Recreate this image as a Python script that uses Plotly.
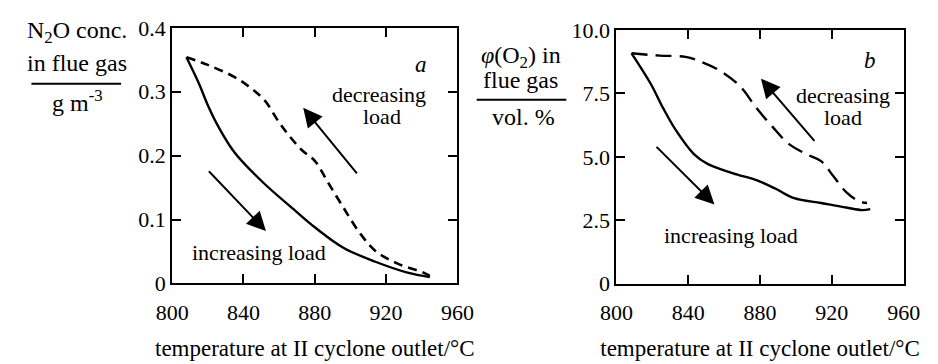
import plotly.graph_objects as go

# --- (a) N2O concentration vs. temperature at II cyclone outlet ---
temp_inc_a = [808, 815, 820, 826, 835, 851, 869, 880, 896, 914, 932, 944.5]
n2o_inc = [0.354, 0.313, 0.279, 0.245, 0.205, 0.158, 0.114, 0.088, 0.056, 0.034, 0.017, 0.010]

temp_dec_a = [808, 820, 835, 844, 852, 860, 866, 873, 880, 887, 896, 905, 914, 926.5, 941, 944.5]
n2o_dec = [0.354, 0.342, 0.323, 0.306, 0.286, 0.252, 0.230, 0.208, 0.192, 0.160, 0.119, 0.080, 0.051, 0.031, 0.017, 0.012]

# --- (b) O2 volume fraction vs. temperature at II cyclone outlet ---
temp_inc_b = [808.4, 819, 826, 833, 843, 851, 865, 878, 889, 899, 914, 928, 937, 941.4]
o2_inc = [9.08, 7.89, 6.92, 6.06, 5.12, 4.71, 4.35, 4.08, 3.73, 3.37, 3.18, 3.0, 2.9, 2.94]

temp_dec_b = [808.4, 824, 838.5, 847, 858, 869, 878, 887, 896, 906, 914, 921, 928, 935, 939.6]
o2_dec = [9.08, 8.99, 8.94, 8.75, 8.38, 7.77, 6.92, 6.18, 5.51, 5.1, 4.83, 4.22, 3.61, 3.25, 3.18]

x_ticks = [800, 840, 880, 920, 960]
y_ticks_a = [0, 0.1, 0.2, 0.3, 0.4]
y_ticklabels_a = ["0", "0.1", "0.2", "0.3", "0.4"]
y_ticks_b = [0, 2.5, 5.0, 7.5, 10.0]
y_ticklabels_b = ["0", "2.5", "5.0", "7.5", "10.0"]

FONT = "Liberation Serif"
W, H = 938, 364

fig = go.Figure()

line_solid = dict(color="black", width=2.4, shape="spline", smoothing=1.0)
fig.add_trace(go.Scatter(x=temp_inc_a, y=n2o_inc, mode="lines", line=line_solid,
                         xaxis="x", yaxis="y", showlegend=False))
fig.add_trace(go.Scatter(x=temp_dec_a, y=n2o_dec, mode="lines",
                         line=dict(color="black", width=2.6, dash="9px,6px", shape="spline", smoothing=1.0),
                         xaxis="x", yaxis="y", showlegend=False))
fig.add_trace(go.Scatter(x=temp_inc_b, y=o2_inc, mode="lines", line=line_solid,
                         xaxis="x2", yaxis="y2", showlegend=False))
fig.add_trace(go.Scatter(x=temp_dec_b, y=o2_dec, mode="lines",
                         line=dict(color="black", width=2.4, dash="16px,8px", shape="spline", smoothing=1.0),
                         xaxis="x2", yaxis="y2", showlegend=False))

axis_common = dict(
    showline=True, linecolor="black", linewidth=2, mirror="allticks",
    ticks="inside", ticklen=9, tickwidth=2, tickcolor="black",
    showgrid=False, zeroline=False,
    tickfont=dict(family=FONT, size=22, color="black"),
)

xtitle = "temperature at II cyclone outlet/°C"
xtitle_font = dict(family=FONT, size=23, color="black")

fig.update_layout(
    width=W, height=H,
    margin=dict(l=0, r=0, t=0, b=0),
    paper_bgcolor="white", plot_bgcolor="white",
    font=dict(family=FONT, color="black"),
    xaxis=dict(axis_common, domain=[161 / W, 457 / W], range=[800, 960],
               tickvals=x_ticks, anchor="y", ticklabelstandoff=8,
               title=dict(text=xtitle, font=xtitle_font, standoff=16)),
    yaxis=dict(axis_common, domain=[1 - 291.5 / H, 1 - 17 / H], range=[0, 0.4],
               tickvals=y_ticks_a, ticktext=y_ticklabels_a, anchor="x"),
    xaxis2=dict(axis_common, domain=[622 / W, 920 / W], range=[800, 960],
                tickvals=x_ticks, anchor="y2", ticklabelstandoff=8,
                title=dict(text=xtitle, font=xtitle_font, standoff=16)),
    yaxis2=dict(axis_common, domain=[1 - 291.7 / H, 1 - 19.3 / H], range=[0, 10],
                tickvals=y_ticks_b, ticktext=y_ticklabels_b, anchor="x2"),
)

ann = []


def label(text, x, y, xref, yref, size=22):
    ann.append(dict(text=text, x=x, y=y, xref=xref, yref=yref, showarrow=False,
                    font=dict(family=FONT, size=size, color="black"),
                    xanchor="center", yanchor="middle"))


def arrow(x0, y0, x1, y1, xref, yref):
    ann.append(dict(x=x1, y=y1, ax=x0, ay=y0, xref=xref, yref=yref,
                    axref=xref, ayref=yref, text="", showarrow=True,
                    arrowhead=2, arrowsize=1.9, arrowwidth=2, arrowcolor="black"))


# panel a
label("<i>a</i>", 939.4, 0.343, "x", "y", size=23)
label("decreasing", 916.2, 0.295, "x", "y")
label("load", 917.8, 0.262, "x", "y")
label("increasing load", 848.9, 0.049, "x", "y")
arrow(904.3, 0.170, 873.5, 0.275, "x", "y")
arrow(819.8, 0.178, 852.6, 0.082, "x", "y")

# panel b
label("<i>b</i>", 941.4, 8.81, "x2", "y2", size=23)
label("decreasing", 926.2, 7.40, "x2", "y2")
label("load", 926.2, 6.56, "x2", "y2")
label("increasing load", 864.0, 1.90, "x2", "y2")
arrow(911.0, 5.57, 880.5, 8.08, "x2", "y2")
arrow(821.5, 5.45, 854.6, 3.12, "x2", "y2")

# quantity / unit y-axis titles written as fractions
label("N<sub>2</sub>O conc.", 62 / W, 1 - 21 / H, "paper", "paper", size=24)
label("in flue gas", 62 / W, 1 - 55 / H, "paper", "paper", size=24)
label("g m<sup>-3</sup>", 63 / W, 1 - 96 / H, "paper", "paper", size=24)
label("<i>φ</i>(O<sub>2</sub>) in", 522.5 / W, 1 - 48 / H, "paper", "paper", size=24)
label("flue gas", 522 / W, 1 - 73 / H, "paper", "paper", size=24)
label("vol. %", 526 / W, 1 - 113 / H, "paper", "paper", size=24)

fig.update_layout(annotations=ann)

fig.update_layout(shapes=[
    dict(type="line", xref="paper", yref="paper", x0=15 / W, x1=108 / W,
         y0=1 - 77 / H, y1=1 - 77 / H, line=dict(color="black", width=2)),
    dict(type="line", xref="paper", yref="paper", x0=477 / W, x1=570 / W,
         y0=1 - 94.3 / H, y1=1 - 94.3 / H, line=dict(color="black", width=2)),
])

fig.write_html("out.html")
